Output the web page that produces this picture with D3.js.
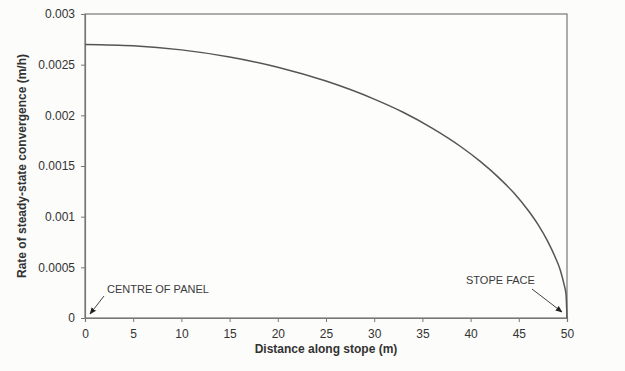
<!DOCTYPE html>
<html>
<head>
<meta charset="utf-8">
<script src="https://cdn.jsdelivr.net/npm/d3@7"></script>
<style>
  body { margin: 0; background: #fcfcfa; }
  svg { display: block; }
  .tick text { font-family: "Liberation Sans", Arial, sans-serif; font-size: 12px; fill: #333; }
  .tick line, .domain { stroke: #777; }
  .title { font-family: "Liberation Sans", Arial, sans-serif; font-size: 12px; font-weight: bold; fill: #333; }
  .note { font-family: "Liberation Sans", Arial, sans-serif; font-size: 11px; fill: #3a3a3a; }
</style>
</head>
<body>
<svg id="chart" width="625" height="371"></svg>
<script>
// distance along stope (m) and convergence rate (m/h)
const distance = [0, 5, 10, 15, 20, 25, 30, 33, 36, 39, 41, 43, 44.5, 46, 47, 48, 48.8, 49.3, 49.7, 49.9, 50];
const rate = [0.0027, 0.002687, 0.002646, 0.002576, 0.002475, 0.002338, 0.00216, 0.00203, 0.001874, 0.00169,
              0.001545, 0.001378, 0.001233, 0.001058, 0.000921, 0.000756, 0.000595, 0.000474, 0.000329, 0.000232, 0];

const xTicks = [0, 5, 10, 15, 20, 25, 30, 35, 40, 45, 50];
const yTicks = [0, 0.0005, 0.001, 0.0015, 0.002, 0.0025, 0.003];

const svg = d3.select("#chart");
const margin = { left: 85, right: 58, top: 14, bottom: 53 };
const W = 625, H = 371;

const x = d3.scaleLinear().domain([0, 50]).range([margin.left, W - margin.right]);
const y = d3.scaleLinear().domain([0, 0.003]).range([H - margin.bottom, margin.top]);

// plot frame
svg.append("rect")
    .attr("x", x(0)).attr("y", y(0.003))
    .attr("width", x(50) - x(0)).attr("height", y(0) - y(0.003))
    .attr("fill", "#fdfdfc").attr("stroke", "#777").attr("stroke-width", 1.2);

svg.append("g")
    .attr("transform", `translate(0,${y(0)})`)
    .call(d3.axisBottom(x).tickValues(xTicks).tickSize(4).tickPadding(7).tickFormat(d3.format("d")))
    .call(g => g.select(".domain").attr("stroke-width", 1.2));

svg.append("g")
    .attr("transform", `translate(${x(0)},0)`)
    .call(d3.axisLeft(y).tickValues(yTicks).tickSize(4).tickPadding(6).tickFormat(d => d === 0 ? "0" : String(d)))
    .call(g => g.select(".domain").attr("stroke-width", 1.2));

// curve
const line = d3.line()
    .x((d, i) => x(distance[i]))
    .y(d => y(d))
    .curve(d3.curveMonotoneX);

svg.append("path")
    .datum(rate)
    .attr("d", line)
    .attr("fill", "none")
    .attr("stroke", "#555")
    .attr("stroke-width", 1.5);

// axis titles
svg.append("text").attr("class", "title")
    .attr("x", (x(0) + x(50)) / 2).attr("y", 353)
    .attr("text-anchor", "middle")
    .text("Distance along stope (m)");

svg.append("text").attr("class", "title")
    .attr("transform", `translate(26,${(y(0) + y(0.003)) / 2}) rotate(-90)`)
    .attr("text-anchor", "middle")
    .text("Rate of steady-state convergence (m/h)");

// annotations with arrows
svg.append("defs").append("marker")
    .attr("id", "arrow").attr("viewBox", "0 0 10 10")
    .attr("refX", 9).attr("refY", 5)
    .attr("markerWidth", 7).attr("markerHeight", 7)
    .attr("markerUnits", "userSpaceOnUse")
    .attr("orient", "auto")
    .append("path").attr("d", "M0,1 L10,5 L0,9 z").attr("fill", "#222");

svg.append("text").attr("class", "note")
    .attr("x", 107).attr("y", 293)
    .text("CENTRE OF PANEL");
svg.append("line")
    .attr("x1", 104).attr("y1", 296).attr("x2", 90).attr("y2", 314)
    .attr("stroke", "#444").attr("marker-end", "url(#arrow)");

svg.append("text").attr("class", "note")
    .attr("x", 466).attr("y", 284)
    .text("STOPE FACE");
svg.append("line")
    .attr("x1", 532).attr("y1", 289).attr("x2", 562).attr("y2", 312)
    .attr("stroke", "#444").attr("marker-end", "url(#arrow)");
</script>
</body>
</html>
